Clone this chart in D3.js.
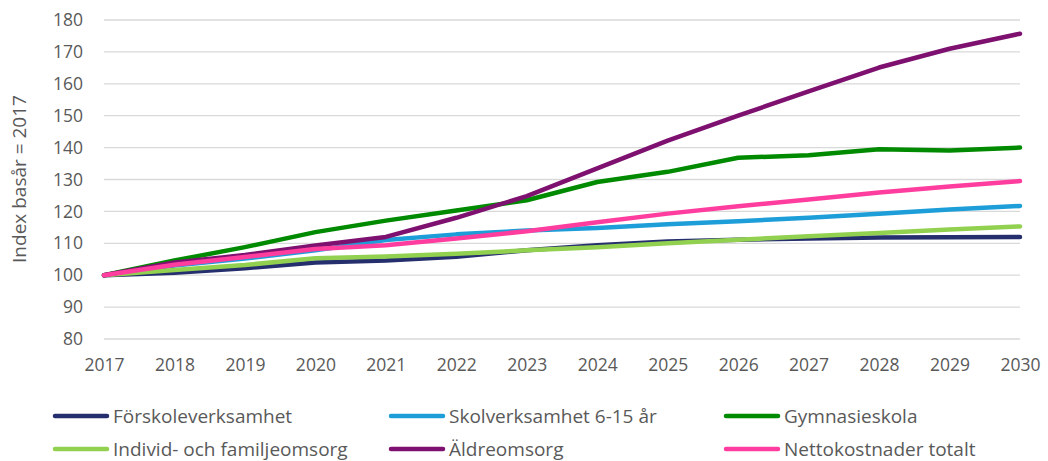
<!DOCTYPE html>
<html>
<head>
<meta charset="utf-8">
<script src="https://cdn.jsdelivr.net/npm/d3@7"></script>
<style>
    body { margin: 0; background: #fff; }
    text { font-family: "Open Sans", sans-serif; fill: #595959; }
</style>
</head>
<body>
<div id="chart"></div>
<script>
// data
let years = [2017, 2018, 2019, 2020, 2021, 2022, 2023, 2024, 2025, 2026, 2027, 2028, 2029, 2030];
let yTicks = [80, 90, 100, 110, 120, 130, 140, 150, 160, 170, 180];

let forskole   = [100, 100.8, 102.2, 104, 104.6, 105.8, 107.8, 109.4, 110.6, 111.1, 111.5, 111.8, 111.9, 112];
let skol       = [100, 103, 105.2, 107.8, 111, 112.8, 114, 114.8, 116, 116.9, 118, 119.3, 120.6, 121.7];
let gymnasie   = [100, 104.6, 108.8, 113.5, 117.1, 120.3, 123.5, 129.2, 132.4, 136.8, 137.6, 139.5, 139.1, 140];
let individ    = [100, 101.6, 103.2, 105.3, 105.9, 106.7, 107.8, 108.8, 110, 111.1, 112.2, 113.2, 114.3, 115.3];
let aldre      = [100, 104, 106.3, 109.3, 112, 118, 124.8, 133.5, 142.2, 150, 157.6, 165.1, 171, 175.7];
let netto      = [100, 103.3, 105.7, 108.2, 109.4, 111.5, 113.8, 116.6, 119.3, 121.6, 123.7, 125.9, 127.8, 129.5];

let seriesNames  = ["Förskoleverksamhet", "Skolverksamhet 6-15 år", "Gymnasieskola",
                    "Individ- och familjeomsorg", "Äldreomsorg", "Nettokostnader totalt"];
let seriesValues = [forskole, skol, gymnasie, individ, aldre, netto];
let seriesColors = ["#262f6e", "#1e9ed9", "#008a00", "#92d050", "#7e1170", "#ff3d9f"];

let width = 1048, height = 461;
let margin = {left: 104, right: 28, top: 20, bottom: 122};

let svg = d3.select("#chart").append("svg")
    .attr("width", width)
    .attr("height", height);

let x = d3.scaleLinear()
    .domain([2017, 2030])
    .range([margin.left, width - margin.right]);

let y = d3.scaleLinear()
    .domain([80, 180])
    .range([height - margin.bottom, margin.top]);

// gridlines
svg.append("g")
    .selectAll("line")
    .data(yTicks)
    .enter().append("line")
    .attr("x1", x(2017))
    .attr("x2", x(2030))
    .attr("y1", d => y(d))
    .attr("y2", d => y(d))
    .attr("stroke", "#d9d9d9")
    .attr("stroke-width", 1.3);

// y axis
let yAxis = d3.axisLeft(y)
    .tickValues(yTicks)
    .tickSize(0)
    .tickPadding(21);

svg.append("g")
    .attr("class", "y-axis")
    .attr("transform", "translate(" + margin.left + ",0)")
    .call(yAxis)
    .call(g => g.select(".domain").remove())
    .selectAll("text")
    .style("font-size", "17.5px")
    .attr("fill", "#595959");

// x axis
let xAxis = d3.axisBottom(x)
    .tickValues(years)
    .tickFormat(d3.format("d"))
    .tickSize(0)
    .tickPadding(20);

svg.append("g")
    .attr("class", "x-axis")
    .attr("transform", "translate(0," + y(80) + ")")
    .call(xAxis)
    .call(g => g.select(".domain").remove())
    .selectAll("text")
    .style("font-size", "17.5px")
    .attr("fill", "#595959");

// axis title
svg.append("text")
    .attr("transform", "translate(26," + 179 + ") rotate(-90)")
    .attr("text-anchor", "middle")
    .style("font-size", "19px")
    .text("Index basår = 2017");

// lines
let line = d3.line()
    .x((d, i) => x(years[i]))
    .y(d => y(d));

seriesValues.forEach((vals, k) => {
    svg.append("path")
        .datum(vals)
        .attr("fill", "none")
        .attr("stroke", seriesColors[k])
        .attr("stroke-width", 4.5)
        .attr("stroke-linejoin", "round")
        .attr("stroke-linecap", "round")
        .attr("d", line);
});

// legend
let legendX = [53, 389, 724];
let legendY = [416, 449];

seriesNames.forEach((name, i) => {
    let lx = legendX[i % 3];
    let ly = legendY[Math.floor(i / 3)];
    let g = svg.append("g").attr("transform", "translate(" + lx + "," + ly + ")");
    g.append("line")
        .attr("x1", 2).attr("x2", 54)
        .attr("y1", 0).attr("y2", 0)
        .attr("stroke", seriesColors[i])
        .attr("stroke-width", 4.5)
        .attr("stroke-linecap", "round");
    g.append("text")
        .attr("x", 60)
        .attr("dy", "0.35em")
        .style("font-size", "19px")
        .text(name);
});
</script>
</body>
</html>
